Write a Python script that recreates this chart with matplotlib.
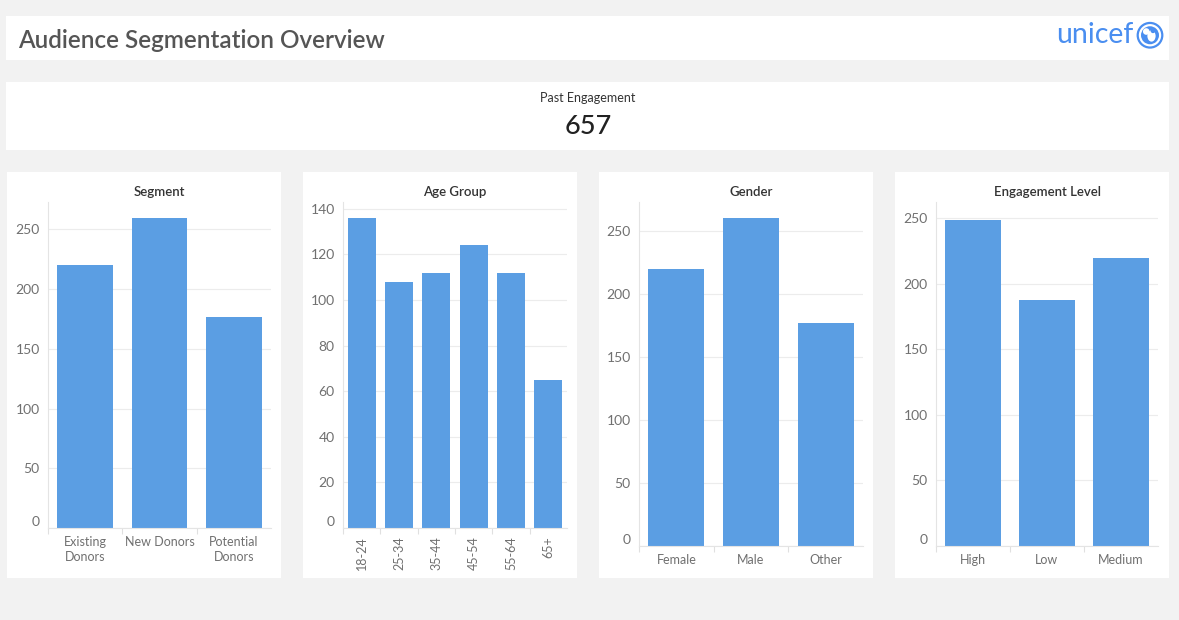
import matplotlib
matplotlib.use("Agg")
import matplotlib.pyplot as plt
from matplotlib.patches import Rectangle, Circle, Ellipse

plt.rcParams["font.family"] = ["Lato", "DejaVu Sans"]

# Data
segments = ["Existing\nDonors", "New Donors", "Potential\nDonors"]
segment_counts = [220, 260, 177]

age_groups = ["18-24", "25-34", "35-44", "45-54", "55-64", "65+"]
age_counts = [136, 108, 112, 124, 112, 65]

genders = ["Female", "Male", "Other"]
gender_counts = [220, 260, 177]

engagement_levels = ["High", "Low", "Medium"]
engagement_counts = [249, 188, 220]

past_engagement = 657

W, H = 1179, 620
BAR = "#5b9ee3"
GRID = "#ececec"
TICK = "#707070"

fig = plt.figure(figsize=(W / 100, H / 100), dpi=100)
fig.patch.set_facecolor("#f2f2f2")


def fx(x):
    return x / W


def fy(y):
    return 1 - y / H


def panel(x0, y0, x1, y1):
    fig.add_artist(Rectangle((fx(x0), fy(y1)), fx(x1 - x0), (y1 - y0) / H,
                             transform=fig.transFigure, facecolor="white",
                             edgecolor="none", zorder=0))


# header
panel(6, 16, 1169, 60)
fig.text(fx(18), fy(40), "Audience Segmentation Overview", fontsize=17.5,
         color="#555555", va="center", ha="left", fontweight=600)

# unicef logo (text + emblem)
fig.text(fx(1133), fy(35), "unicef", fontsize=20.5, color="#4a8ef0",
         ha="right", va="center")
logo = fig.add_axes([fx(1135), fy(51), fx(30), 30 / H])
logo.set_xlim(-1, 1)
logo.set_ylim(-1, 1)
logo.set_aspect("equal")
logo.axis("off")
logo.add_patch(Circle((0, 0.05), 0.82, facecolor="none", edgecolor="#4a8ef0", lw=1.6))
logo.add_patch(Circle((0, 0.05), 0.6, facecolor="#4a8ef0", edgecolor="none"))
logo.add_patch(Ellipse((0.1, 0.0), 0.55, 0.75, facecolor="white", edgecolor="none"))
logo.add_patch(Circle((-0.25, 0.3), 0.22, facecolor="white", edgecolor="none"))
logo.add_patch(Circle((0.2, 0.35), 0.16, facecolor="#4a8ef0", edgecolor="none"))

# KPI
panel(6, 82, 1169, 150)
fig.text(fx(588), fy(98), "Past Engagement", fontsize=9, color="#333333",
         ha="center", va="center")
fig.text(fx(588), fy(126), f"{past_engagement}", fontsize=19.5, color="#222222",
         ha="center", va="center", fontweight=500)


def bar_chart(box, axbox, title, labels, values, ymax, ticks, rotate=False):
    px0, px1 = box
    panel(px0, 172, px1, 578)
    ax0, ax1, ay0, ay1 = axbox
    # title is centred over the plot area, not the card
    fig.text(fx((ax0 + ax1) / 2), fy(192), title, fontsize=9.5,
             color="#333333", ha="center", va="center", fontweight=600)
    ax = fig.add_axes([fx(ax0), fy(ay1), fx(ax1 - ax0), (ay1 - ay0) / H])
    n = len(labels)
    ax.bar(range(n), values, width=0.75, color=BAR, zorder=2)
    ax.set_xlim(-0.5, n - 0.5)
    ax.set_ylim(0, ymax)
    ax.set_yticks(ticks)
    ax.set_yticklabels([str(t) for t in ticks])
    ax.yaxis.grid(True, color=GRID, lw=0.8, zorder=0)
    ax.set_facecolor("none")
    for s in ["top", "right"]:
        ax.spines[s].set_visible(False)
    for s in ["left", "bottom"]:
        ax.spines[s].set_color("#e4e4e4")
        ax.spines[s].set_linewidth(0.8)
    ax.tick_params(axis="y", length=0, pad=6, labelsize=10, labelcolor=TICK)
    # Tableau nudges the bottom label up so it sits inside the pane
    ax.get_yticklabels()[0].set_va("bottom")
    ax.set_xticks(range(n))
    if rotate:
        ax.set_xticklabels(labels, rotation=90, ha="center", va="top")
    else:
        ax.set_xticklabels(labels, linespacing=1.3)
    ax.tick_params(axis="x", length=0, pad=6, labelsize=9, labelcolor=TICK)
    ax.set_xticks([i - 0.5 for i in range(n)], minor=True)
    ax.tick_params(axis="x", which="minor", length=4, color="#e0e0e0", width=0.8)
    return ax


bar_chart((7, 281), (48, 271, 202, 528), "Segment", segments,
          segment_counts, 273, [0, 50, 100, 150, 200, 250])
bar_chart((303, 577), (343, 567, 202, 528), "Age Group", age_groups,
          age_counts, 143, [0, 20, 40, 60, 80, 100, 120, 140], rotate=True)
bar_chart((599, 873), (639, 863, 202, 546), "Gender", genders,
          gender_counts, 273, [0, 50, 100, 150, 200, 250])
bar_chart((895, 1169), (936, 1158, 202, 546), "Engagement Level", engagement_levels,
          engagement_counts, 262.4, [0, 50, 100, 150, 200, 250])

fig.savefig("out.png", dpi=100, facecolor=fig.get_facecolor())
